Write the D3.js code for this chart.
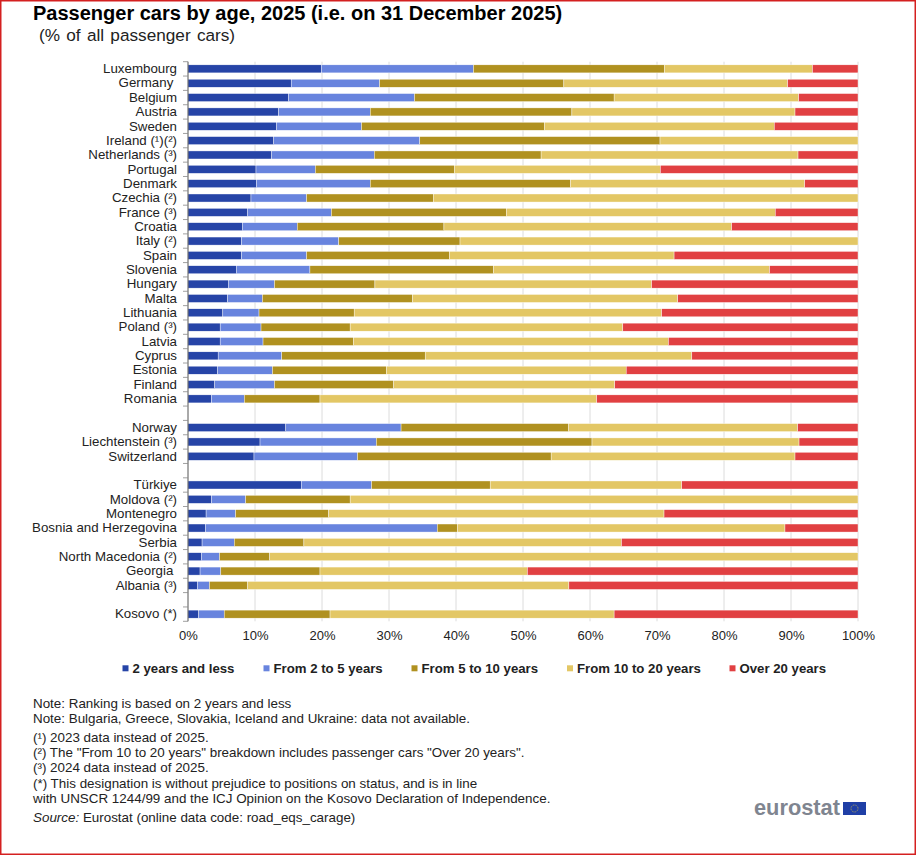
<!DOCTYPE html>
<html><head><meta charset="utf-8">
<script src="https://cdn.jsdelivr.net/npm/d3@7"></script>
<style>
html,body{margin:0;padding:0;background:#fff}
svg{display:block}
text{font-family:"Liberation Sans",Arial,sans-serif;fill:#222}
</style></head><body>
<div id="chart"></div>
<script>
const categories=["Luxembourg","Germany\u00a0","Belgium","Austria","Sweden","Ireland (¹)(²)","Netherlands (³)","Portugal","Denmark","Czechia (²)","France (³)","Croatia","Italy (²)","Spain","Slovenia","Hungary","Malta","Lithuania","Poland (³)","Latvia","Cyprus","Estonia","Finland","Romania","gap1","Norway","Liechtenstein (³)","Switzerland","gap2","Türkiye","Moldova (²)","Montenegro","Bosnia and Herzegovina","Serbia","North Macedonia (²)","Georgia\u00a0","Albania (³)","gap3","Kosovo (*)"];
const seriesNames=["2 years and less","From 2 to 5 years","From 5 to 10 years","From 10 to 20 years","Over 20 years"];
const seriesColors=["#2644a7","#6884de","#b09120","#e3c765","#e14042"];
const twoOrLess=[19.9,15.4,15.0,13.5,13.2,12.8,12.5,10.15,10.2,9.4,8.85,8.1,8.0,8.0,7.2,6.0,5.9,5.2,4.8,4.8,4.5,4.4,4.0,3.5,14.6,10.75,9.85,16.9,3.5,2.7,2.6,2.1,2.0,1.8,1.4,1.6];
const twoToFive=[22.7,13.2,18.8,13.7,12.7,21.8,15.3,8.85,17.0,8.3,12.55,8.2,14.5,9.7,11.0,6.9,5.2,5.4,6.1,6.4,9.5,8.2,8.9,4.9,17.2,17.35,15.45,10.5,5.1,4.4,34.6,4.8,2.7,3.1,1.8,3.8];
const fiveToTen=[28.5,27.5,29.8,30.1,27.3,35.85,24.9,20.75,29.9,18.9,26.1,21.9,18.1,21.3,27.4,15.0,22.4,14.2,13.3,13.5,21.4,17.0,17.8,11.3,25.0,32.2,28.9,17.7,15.6,13.9,3.0,10.4,7.5,14.8,5.7,15.8];
const tenToTwenty=[22.1,33.4,27.55,33.3,34.3,29.55,38.35,30.75,34.95,63.4,40.15,42.95,59.4,33.55,41.2,41.3,39.6,45.9,40.7,47.0,39.8,35.8,33.0,41.3,34.2,30.9,36.4,28.6,75.8,50.05,48.9,47.4,87.8,30.95,47.95,42.4];
const overTwenty=[6.8,10.5,8.85,9.4,12.5,0,8.95,29.5,7.95,0,12.35,18.85,0,27.45,13.2,30.8,26.9,29.3,35.1,28.3,24.8,34.6,36.3,39.0,9.0,8.8,9.4,26.3,0,28.95,10.9,35.3,0,49.35,43.15,36.4];
const xTicks=[0,10,20,30,40,50,60,70,80,90,100];
const notes=[
 {t:"Note: Ranking is based on 2 years and less",y:707.5},
 {t:"Note: Bulgaria, Greece, Slovakia,  Iceland and Ukraine: data not available.",y:722.8},
 {t:"(¹) 2023 data instead of 2025.",y:741.5},
 {t:"(²) The \"From 10 to 20 years\" breakdown includes passenger cars \"Over 20 years\".",y:756.8},
 {t:"(³) 2024 data instead of 2025.",y:772.2},
 {t:"(*) This designation is without prejudice to positions on status, and is in line",y:787.5},
 {t:"with UNSCR 1244/99 and the ICJ Opinion on the Kosovo Declaration of Independence.",y:802.5}
];

const W=916,H=855;
const svg=d3.select("#chart").append("svg").attr("width",W).attr("height",H);
svg.append("rect").attr("x",.75).attr("y",.75).attr("width",W-1.5).attr("height",H-1.5).attr("fill","#fff").attr("stroke","#d42020").attr("stroke-width",1.5);

const x=d3.scaleLinear().domain([0,100]).range([188,858]);
const y=d3.scaleBand().domain(categories).range([61.7,621.3]).paddingInner(.44).paddingOuter(.22);
const rows=categories.filter(c=>!c.startsWith("gap"));
const table=rows.map((c,i)=>({c,s0:twoOrLess[i],s1:twoToFive[i],s2:fiveToTen[i],s3:tenToTwenty[i],s4:overTwenty[i]}));
const stack=d3.stack().keys(["s0","s1","s2","s3","s4"])(table);

// gridlines
svg.append("g").selectAll("line").data(xTicks.slice(1)).join("line")
 .attr("x1",d=>x(d)).attr("x2",d=>x(d)).attr("y1",61.7).attr("y2",621.3).attr("stroke","#dcdcdc").attr("stroke-width",1);

// bars
svg.append("g").selectAll("g").data(stack).join("g").attr("fill",(d,i)=>seriesColors[i])
 .selectAll("rect").data(d=>d.filter(v=>v[1]>v[0])).join("rect")
 .attr("x",d=>x(d[0])).attr("width",d=>x(d[1])-x(d[0]))
 .attr("y",d=>y(d.data.c)).attr("height",y.bandwidth())
 .attr("stroke","#fff").attr("stroke-width",.4);

// y axis
const yAxis=d3.axisLeft(y).tickSize(0).tickPadding(11).tickFormat(d=>d.startsWith("gap")?"":d);
const gy=svg.append("g").attr("transform","translate(188,0)").call(yAxis);
gy.select(".domain").attr("stroke","#555").attr("d","M0,61.7V621.3");
gy.selectAll("text").attr("font-size",13.3).attr("fill","#222").style("font-family",'"Liberation Sans"');
const stepBounds=d3.range(categories.length+1).map(i=>61.7+i*y.step());
svg.append("g").selectAll("line").data(stepBounds).join("line")
 .attr("x1",183).attr("x2",188).attr("y1",d=>d).attr("y2",d=>d).attr("stroke","#888").attr("stroke-width",.8);

// x axis
const xAxis=d3.axisBottom(x).tickValues(xTicks).tickSize(0).tickPadding(9).tickFormat(d=>d+"%");
const gx=svg.append("g").attr("transform","translate(0,621.3)").call(xAxis);
gx.select(".domain").remove();
gx.selectAll("text").attr("font-size",13).attr("fill","#222").style("font-family",'"Liberation Sans"');

// title
svg.append("text").attr("x",33).attr("y",20).attr("font-size",20).attr("font-weight",700).style("fill","#000").text("Passenger cars by age, 2025 (i.e. on 31 December 2025)");
svg.append("text").attr("x",39).attr("y",40.5).attr("font-size",17.2).style("word-spacing","1.5px").text("(% of all passenger cars)");

// legend
const legendX=[122.5,263.5,411.5,567,729.5];
const lg=svg.append("g").selectAll("g").data(seriesNames).join("g").attr("transform",(d,i)=>`translate(${legendX[i]},0)`);
lg.append("rect").attr("x",0).attr("y",665.3).attr("width",6).attr("height",6).attr("fill",(d,i)=>seriesColors[i]);
lg.append("text").attr("x",10).attr("y",672.8).attr("font-size",13.2).attr("font-weight",700).text(d=>d);

// notes
svg.append("g").selectAll("text").data(notes).join("text").attr("x",33).attr("y",d=>d.y).attr("font-size",13.4).text(d=>d.t);
const src=svg.append("text").attr("x",33).attr("y",821.5).attr("font-size",13.4);
src.append("tspan").attr("font-style","italic").text("Source:");
src.append("tspan").text(" Eurostat (online data code: road_eqs_carage)");

// logo
svg.append("text").attr("x",754).attr("y",815).attr("font-size",21.8).attr("font-weight",700).style("fill","#7f8590").text("eurostat");
svg.append("rect").attr("x",843).attr("y",802).attr("width",23).attr("height",13).attr("fill","#1f3fa6");
svg.append("circle").attr("cx",854.5).attr("cy",808.5).attr("r",3.5).attr("fill","none").attr("stroke","#c9b84a").attr("stroke-width",.8).attr("stroke-dasharray","1 .8");
</script></body></html>
